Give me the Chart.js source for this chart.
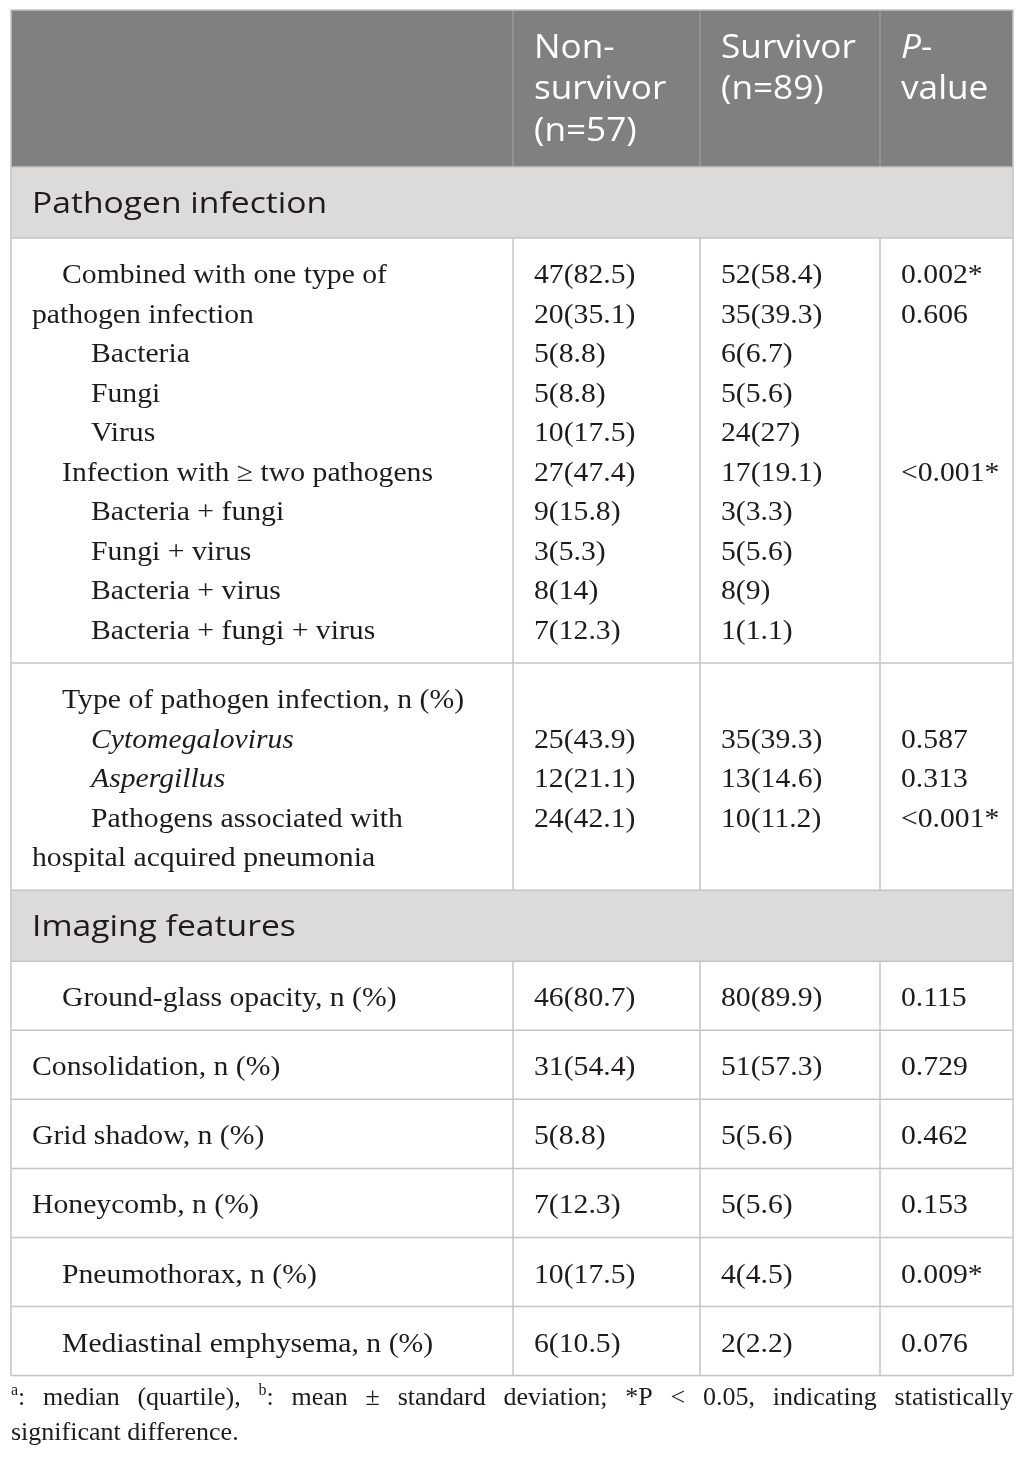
<!DOCTYPE html>
<html>
<head>
<meta charset="utf-8">
<script src="https://cdn.jsdelivr.net/npm/chart.js@4.4.1/dist/chart.umd.min.js"></script>
<style>
  html, body { margin: 0; padding: 0; background: #fff; }
  #wrap { width: 1026px; height: 1467px; }
</style>
</head>
<body>
<div id="wrap"><canvas id="table" width="1026" height="1467"></canvas></div>
<script>
// ---- table content ----
const headerCols = [['Non-', 'survivor', '(n=57)'], ['Survivor', '(n=89)'], ['P-', 'value']];
const sections = ['Pathogen infection', 'Imaging features'];

const pathogenLabels = ['Combined with one type of', 'pathogen infection', 'Bacteria', 'Fungi', 'Virus',
  'Infection with \u2265 two pathogens', 'Bacteria + fungi', 'Fungi + virus', 'Bacteria + virus', 'Bacteria + fungi + virus'];
const pathogenNonSurvivor = ['47(82.5)', '20(35.1)', '5(8.8)', '5(8.8)', '10(17.5)', '27(47.4)', '9(15.8)', '3(5.3)', '8(14)', '7(12.3)'];
const pathogenSurvivor = ['52(58.4)', '35(39.3)', '6(6.7)', '5(5.6)', '24(27)', '17(19.1)', '3(3.3)', '5(5.6)', '8(9)', '1(1.1)'];
const pathogenP = ['0.002*', '0.606', '', '', '', '<0.001*', '', '', '', ''];

const typeLabels = ['Type of pathogen infection, n (%)', 'Cytomegalovirus', 'Aspergillus', 'Pathogens associated with', 'hospital acquired pneumonia'];
const typeNonSurvivor = ['', '25(43.9)', '12(21.1)', '24(42.1)', ''];
const typeSurvivor = ['', '35(39.3)', '13(14.6)', '10(11.2)', ''];
const typeP = ['', '0.587', '0.313', '<0.001*', ''];

const imagingLabels = ['Ground-glass opacity, n (%)', 'Consolidation, n (%)', 'Grid shadow, n (%)', 'Honeycomb, n (%)',
  'Pneumothorax, n (%)', 'Mediastinal emphysema, n (%)'];
const imagingNonSurvivor = ['46(80.7)', '31(54.4)', '5(8.8)', '7(12.3)', '10(17.5)', '6(10.5)'];
const imagingSurvivor = ['80(89.9)', '51(57.3)', '5(5.6)', '5(5.6)', '4(4.5)', '2(2.2)'];
const imagingP = ['0.115', '0.729', '0.462', '0.153', '0.009*', '0.076'];

const footLine1 = [[['a', true], [':', false]], 'median', '(quartile),', [['b', true], [':', false]], 'mean', '\u00b1',
  'standard', 'deviation;', '*P', '<', '0.05,', 'indicating', 'statistically'];
const footLine2 = 'significant difference.';

// ---- layout (not data) ----
const pathogenIndent = [1, 0, 2, 2, 2, 1, 2, 2, 2, 2];
const typeIndent = [1, 2, 2, 2, 0];
const typeItalic = [false, true, true, false, false];
const imagingIndent = [1, 0, 0, 0, 1, 1];

const PAGE_W = 1026, PAGE_H = 1467;
const TABLE_L = 11, TABLE_R = 1013, TABLE_T = 10;
const COL_X = [TABLE_L, 513, 700, 880, TABLE_R];
const TEXT_PAD = 21;
const INDENT = [21, 51, 80];
const BODY_LH = 39.55, BODY_PAD = 14.75, BODY_BASE = 30.3;
const HEAD_LH = 41.5, HEAD_H = 157, HEAD_BASE = 47.5;
const SECT_H = 71, SECT_BASE = 46;
const SX = 1.1;

const SERIF = '27px "Liberation Serif", "Times New Roman", serif';
const SERIF_I = 'italic 27px "Liberation Serif", "Times New Roman", serif';
const SANS_HEAD = '32px "Open Sans", "Noto Sans", sans-serif';
const SANS_HEAD_I = 'italic 32px "Open Sans", "Noto Sans", sans-serif';
const SANS_SECT = '29px "Open Sans", "Noto Sans", sans-serif';
const SECT_SX = 1.16;
const FOOT = '26px "Liberation Serif", "Times New Roman", serif';
const FOOT_SUP = '16px "Liberation Serif", "Times New Roman", serif';
const FOOT_SX = 1.0;

const TEXT_C = '#1f1b1c', HEAD_BG = '#808080', SECT_BG = '#dcdbda', LINE_C = '#c4c4c4', HEAD_LINE = '#9a9a9a';

function lines(labels, a, b, p, indent, italic) {
  return labels.map((t, i) => ({ t, a: a[i], b: b[i], p: p[i], indent: indent[i], italic: italic ? italic[i] : false }));
}

const blocks = [
  { kind: 'header' },
  { kind: 'section', text: sections[0] },
  { kind: 'body', rows: lines(pathogenLabels, pathogenNonSurvivor, pathogenSurvivor, pathogenP, pathogenIndent) },
  { kind: 'body', rows: lines(typeLabels, typeNonSurvivor, typeSurvivor, typeP, typeIndent, typeItalic) },
  { kind: 'section', text: sections[1] },
  ...imagingLabels.map((t, i) => ({ kind: 'body',
    rows: lines([t], [imagingNonSurvivor[i]], [imagingSurvivor[i]], [imagingP[i]], [imagingIndent[i]]) }))
];

function blockHeight(b) {
  if (b.kind === 'header') return HEAD_H;
  if (b.kind === 'section') return SECT_H;
  return BODY_PAD * 2 + b.rows.length * BODY_LH;
}

function drawText(ctx, str, x, y, font, color, sx) {
  ctx.save();
  ctx.font = font;
  ctx.fillStyle = color;
  ctx.textBaseline = 'alphabetic';
  ctx.translate(x, y);
  ctx.scale(sx, 1);
  ctx.fillText(str, 0, 0);
  ctx.restore();
}

function textWidth(ctx, str, font, sx) {
  ctx.font = font;
  return ctx.measureText(str).width * sx;
}

const tablePlugin = {
  id: 'tablePlugin',
  afterDraw(chart) {
    const ctx = chart.ctx;
    const X = v => chart.scales.x.getPixelForValue(v);
    const Y = v => chart.scales.y.getPixelForValue(v);

    ctx.save();
    ctx.fillStyle = '#fff';
    ctx.fillRect(0, 0, chart.width, chart.height);

    let top = TABLE_T;
    const edges = [];
    blocks.forEach(b => {
      const h = blockHeight(b);
      b.top = top; b.h = h;
      top += h;
      edges.push(top);
    });
    const tableB = top;

    // fills
    blocks.forEach(b => {
      if (b.kind === 'header' || b.kind === 'section') {
        ctx.fillStyle = b.kind === 'header' ? HEAD_BG : SECT_BG;
        ctx.fillRect(X(TABLE_L), Y(b.top), X(TABLE_R) - X(TABLE_L), Y(b.top + b.h) - Y(b.top));
      }
    });

    // vertical dividers (not across section rows)
    ctx.lineWidth = 1.5;
    blocks.forEach(b => {
      if (b.kind === 'section') return;
      ctx.strokeStyle = b.kind === 'header' ? HEAD_LINE : LINE_C;
      for (let c = 1; c < COL_X.length - 1; c++) {
        ctx.beginPath();
        ctx.moveTo(X(COL_X[c]), Y(b.top));
        ctx.lineTo(X(COL_X[c]), Y(b.top + b.h));
        ctx.stroke();
      }
    });

    // horizontal rules
    ctx.strokeStyle = LINE_C;
    edges.slice(0, -1).forEach(e => {
      ctx.beginPath();
      ctx.moveTo(X(TABLE_L), Y(e));
      ctx.lineTo(X(TABLE_R), Y(e));
      ctx.stroke();
    });
    ctx.strokeRect(X(TABLE_L), Y(TABLE_T), X(TABLE_R) - X(TABLE_L), Y(tableB) - Y(TABLE_T));

    // text
    blocks.forEach(b => {
      if (b.kind === 'header') {
        headerCols.forEach((col, ci) => {
          col.forEach((ln, li) => {
            const y = Y(b.top + HEAD_BASE + li * HEAD_LH);
            let x = X(COL_X[ci + 1] + TEXT_PAD);
            if (ci === 2 && li === 0) {
              drawText(ctx, 'P', x, y, SANS_HEAD_I, '#fff', SX);
              x += textWidth(ctx, 'P', SANS_HEAD_I, SX);
              drawText(ctx, '-', x, y, SANS_HEAD, '#fff', SX);
            } else {
              drawText(ctx, ln, x, y, SANS_HEAD, '#fff', SX);
            }
          });
        });
      } else if (b.kind === 'section') {
        drawText(ctx, b.text, X(TABLE_L + TEXT_PAD), Y(b.top + SECT_BASE), SANS_SECT, TEXT_C, SECT_SX);
      } else {
        b.rows.forEach((r, i) => {
          const y = Y(b.top + BODY_PAD + BODY_BASE + i * BODY_LH);
          drawText(ctx, r.t, X(TABLE_L + INDENT[r.indent]), y, r.italic ? SERIF_I : SERIF, TEXT_C, SX);
          [r.a, r.b, r.p].forEach((v, ci) => {
            if (v) drawText(ctx, v, X(COL_X[ci + 1] + TEXT_PAD), y, SERIF, TEXT_C, SX);
          });
        });
      }
    });

    // footnote, first line justified
    const fy1 = Y(tableB + 29), fy2 = Y(tableB + 64);
    const words = footLine1.map(w => Array.isArray(w) ? w : [[w, false]]);
    const wordW = words.map(w => w.reduce((s, [t, sup]) => s + textWidth(ctx, t, sup ? FOOT_SUP : FOOT, FOOT_SX), 0));
    const total = wordW.reduce((s, v) => s + v, 0);
    const gap = (X(TABLE_R) - X(TABLE_L) - total) / (words.length - 1);
    let fx = X(TABLE_L);
    words.forEach((w, i) => {
      let x = fx;
      w.forEach(([t, sup]) => {
        drawText(ctx, t, x, sup ? fy1 - 10 : fy1, sup ? FOOT_SUP : FOOT, TEXT_C, FOOT_SX);
        x += textWidth(ctx, t, sup ? FOOT_SUP : FOOT, FOOT_SX);
      });
      fx += wordW[i] + gap;
    });
    drawText(ctx, footLine2, X(TABLE_L), fy2, FOOT, TEXT_C, FOOT_SX);
    ctx.restore();
  }
};

new Chart(document.getElementById('table'), {
  type: 'scatter',
  data: { datasets: [] },
  options: {
    responsive: false,
    animation: false,
    layout: { padding: 0 },
    plugins: { legend: { display: false }, tooltip: { enabled: false } },
    scales: {
      x: { type: 'linear', min: 0, max: PAGE_W, display: false },
      y: { type: 'linear', min: 0, max: PAGE_H, reverse: true, display: false }
    }
  },
  plugins: [tablePlugin]
});
</script>
</body>
</html>
